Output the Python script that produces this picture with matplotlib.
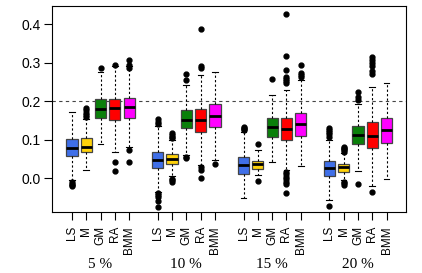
import matplotlib
matplotlib.use("Agg")
import matplotlib.pyplot as plt
import matplotlib.transforms as mtransforms
import numpy as np


# *********
# * Data  *
# *********

methods = ["LS", "M", "GM", "RA", "BMM"]
levels = ["5 %", "10 %", "15 %", "20 %"]
colors = ["#3f6fe8", "#ffd20a", "#0a800a", "#ff0000", "#ff00ff"]

# one row per contamination level, one entry per method
q1 = [[0.057, 0.067, 0.156, 0.152, 0.156],
      [0.026, 0.037, 0.130, 0.121, 0.132],
      [0.011, 0.024, 0.108, 0.100, 0.110],
      [0.006, 0.017, 0.088, 0.078, 0.091]]
med = [[0.079, 0.082, 0.179, 0.182, 0.184],
       [0.048, 0.049, 0.152, 0.152, 0.162],
       [0.035, 0.036, 0.134, 0.129, 0.141],
       [0.026, 0.028, 0.113, 0.110, 0.124]]
q3 = [[0.102, 0.104, 0.205, 0.206, 0.208],
      [0.069, 0.062, 0.177, 0.180, 0.192],
      [0.056, 0.045, 0.156, 0.156, 0.169],
      [0.045, 0.036, 0.136, 0.145, 0.157]]
whislo = [[-0.004, 0.022, 0.088, 0.068, 0.082],
          [-0.035, 0.007, 0.061, 0.035, 0.046],
          [-0.052, 0.009, 0.042, 0.022, 0.032],
          [-0.056, -0.004, 0.020, -0.019, -0.003]]
whishi = [[0.172, 0.155, 0.277, 0.290, 0.290],
          [0.136, 0.100, 0.242, 0.268, 0.277],
          [0.121, 0.074, 0.215, 0.229, 0.255],
          [0.098, 0.065, 0.192, 0.238, 0.248]]
fliers = [[[-0.010, -0.014, -0.018, -0.021],
           [0.160, 0.165, 0.170, 0.176, 0.183],
           [0.287],
           [0.042, 0.020, 0.294],
           [0.074, 0.043, 0.287, 0.293, 0.307]],
          [[0.140, 0.146, 0.153, -0.039, -0.044, -0.050, -0.060, -0.074],
           [0.104, 0.108, 0.113, 0.117, -0.001, -0.005, -0.011],
           [0.254, 0.271, 0.056, 0.052],
           [0.286, 0.290, 0.388, 0.030, 0.022, 0.000],
           [0.037]],
          [[0.124, 0.128, 0.131, 0.134],
           [0.088, -0.007],
           [0.258],
           [0.247, 0.252, 0.257, 0.264, 0.281, 0.316, 0.427,
            0.017, 0.010, 0.004, -0.003, -0.009, -0.015, -0.039],
           [0.262, 0.268, 0.273, 0.294]],
          [[0.108, 0.114, 0.120, 0.126, 0.130, -0.071],
           [0.068, 0.072, 0.076, 0.079, 0.082, -0.009, -0.013, -0.017],
           [0.203, 0.210, 0.225, -0.016],
           [0.271, 0.279, 0.290, 0.300, 0.307, 0.314, -0.036],
           []]]


# ************
# * Plotting *
# ************

plt.rcParams['font.family'] = ['Liberation Sans', 'DejaVu Sans']

fig = plt.figure(figsize=(4.22, 2.73), dpi=100)
ax = fig.add_axes([0.123, 0.223, 0.838, 0.755])

stats = []
positions = []
box_colors = []
for g in range(len(levels)):
    for m in range(len(methods)):
        stats.append(dict(q1=q1[g][m], med=med[g][m], q3=q3[g][m],
                          whislo=whislo[g][m], whishi=whishi[g][m],
                          fliers=fliers[g][m]))
        positions.append(g * 6 + m + 1)
        box_colors.append(colors[m])

bp = ax.bxp(stats, positions=positions, widths=0.78, patch_artist=True,
            boxprops=dict(edgecolor='#444444', linewidth=0.9),
            medianprops=dict(color='black', linewidth=2.0),
            whiskerprops=dict(color='black', linestyle=(0, (2, 2)), linewidth=0.8),
            capprops=dict(color='black', linewidth=0.8),
            capwidths=0.4,
            flierprops=dict(marker='o', markerfacecolor='black',
                            markeredgecolor='black', markersize=3.5))
for patch, c in zip(bp['boxes'], box_colors):
    patch.set_facecolor(c)

ax.axhline(0.2, color='#444444', linestyle=(0, (3, 3)), linewidth=0.8, zorder=0)

ax.set_xlim(-0.4, 24.33)
ax.set_ylim(-0.088, 0.447)
ax.set_yticks([0.0, 0.1, 0.2, 0.3, 0.4])
ax.set_yticklabels(["0.0", "0.1", "0.2", "0.3", "0.4"], fontsize=10)
ax.set_xticks(positions)
ax.set_xticklabels(methods * len(levels), rotation=90, fontsize=8.5)
ax.tick_params(direction='out', length=6, width=0.8)
ax.tick_params(axis='y', pad=2)
ax.tick_params(axis='x', pad=4)
for s in ax.spines.values():
    s.set_linewidth(0.8)

# group labels under the rotated method names
trans = mtransforms.blended_transform_factory(ax.transData, fig.transFigure)
for g, lab in enumerate(levels):
    ax.text(g * 6 + 3, 0.03, lab, ha='center', va='center',
            fontsize=11, family='Liberation Serif',
            transform=trans, clip_on=False)

fig.savefig("out.png", dpi=100)
